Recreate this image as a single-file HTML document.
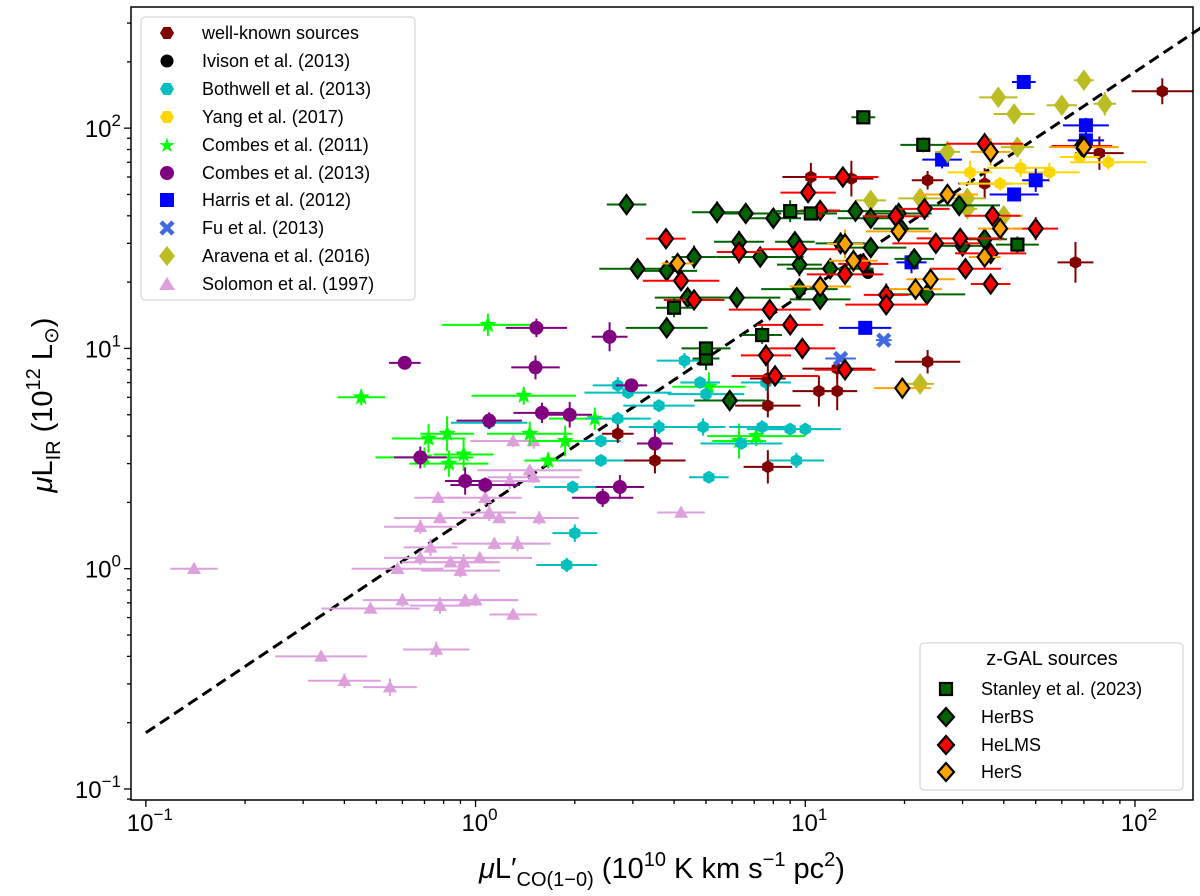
<!DOCTYPE html>
<html><head><meta charset="utf-8"><style>
body{margin:0;background:#fff;position:relative;}
svg{display:block;font-family:"Liberation Sans","DejaVu Sans",sans-serif;}
</style></head><body>
<svg id="chart" width="1200" height="896" viewBox="0 0 1200 896">
<g id="marks"></g>
<g id="axes"></g>
</svg>
<script>
// ---- data (x: muL'CO 1e10 K km/s pc2, y: muLIR 1e12 Lsun) ----
const wellKnownX=[2.7,3.5,7.7,7.7,7.7,11,12.5,12.5,10.4,13.8,23.5,121,78,66,23.5,35];
const wellKnownY=[4.1,3.1,2.9,7.3,5.5,6.4,6.4,8.1,60,59,58,147,77,24.6,8.7,56];
const ivisonX=[15.5];const ivisonY=[22];
const bothwellX=[2.4,1.97,1.89,2.0,2.4,2.7,2.7,2.9,3.6,4.3,4.8,5.0,3.6,4.9,6.4,7.4,7.6,9.0,10,9.4,5.1,1.1];
const bothwellY=[3.8,2.35,1.04,1.45,3.1,4.8,6.8,6.3,5.5,8.8,7.0,6.2,4.4,4.4,3.7,4.4,7.0,4.3,4.3,3.1,2.6,4.6];
const yangX=[68,83,55,31.6,39,45];const yangY=[74,70,63,63,56,66];
const combes11X=[0.45,1.09,0.72,0.82,0.7,0.83,0.92,1.4,1.46,1.87,1.66,2.3,5.1,6.3,7.1];
const combes11Y=[6,12.8,3.9,4.1,3.2,3.0,3.3,6.1,4.1,3.8,3.1,4.8,6.7,3.8,4.0];
const combes13X=[0.61,1.53,1.52,2.55,1.1,0.68,0.93,1.07,1.59,1.93,2.97,2.43,2.74,3.5];
const combes13Y=[8.6,12.4,8.2,11.3,4.7,3.2,2.5,2.4,5.1,5.0,6.8,2.1,2.35,3.7];
const harrisX=[46,71,71,50,43,26,21,15.2];const harrisY=[162,103,88,58,50,72,24.6,12.4];
const fuX=[17.3,12.8];const fuY=[10.9,9.0];
const aravenaX=[70,38.5,60,81,43,44,27,22.3,31,22.3,31,40,15.8];
const aravenaY=[165,138,127,129,116,82,78,48,48,6.9,43,40,47];
const solomonX=[0.14,0.34,0.4,0.55,0.48,0.6,0.78,0.93,1.0,0.76,1.3,0.58,0.68,0.73,0.84,0.9,0.92,1.03,1.14,1.34,0.77,0.78,1.07,1.1,1.18,1.56,1.27,1.46,1.3,1.5,4.2,1.5,0.68];
const solomonY=[1.0,0.4,0.31,0.29,0.66,0.72,0.68,0.72,0.72,0.43,0.62,1.0,1.12,1.25,1.07,0.98,1.07,1.12,1.3,1.3,2.1,1.7,2.1,1.8,1.7,1.7,2.5,2.8,3.8,3.8,1.8,2.6,1.55];
const stanleyX=[15,22.8,4,5,5,7.4,9,10.4,44];const stanleyY=[112,84,15.3,9,10,11.5,42,41,29.6];
const herbsX=[2.87,3.1,3.8,4.6,3.8,4.4,5.4,6.2,6.6,8.0,9.3,9.6,11.1,9.6,14.2,15.8,12.8,11.9,15.8,19.5,21.4,23.4,30,35,29.3,19.2,6.3,7.3,5.9];
const herbsY=[45,23,22.5,26,12.4,17,41.5,17,41,39,30.5,18.6,16.7,24,42,39,30,23,28.7,35,25.5,17.6,29.2,31.3,44.6,41,30.5,26,5.8];
const helmsX=[3.78,4.2,4.6,6.3,9.6,9.8,7.6,8.1,13,10.2,11.1,13.2,13.2,17.6,17.6,18.8,23,29.5,36.5,37,36.5,35,69,50,7.8,9,15,24.9,30.6];
const helmsY=[31.5,20.3,16.6,27.4,28.2,10,9.3,7.5,60,51,42.3,21.7,8,17.5,15.8,39.8,43,31.6,27,40,19.6,85,83,35,15,12.8,24.2,30,23];
const hersX=[4.1,11.1,14,13.2,19.2,21.6,36.5,70,19.7,39,35,27,24];
const hersY=[24.3,19.1,25,29.8,34,18.6,78,82,6.6,35,26,50,20.6];
// ---- axes ----
const X0=131,X1=1193,Y0=7,Y1=800;
const lxmin=-1.045,lxmax=2.176,lymin=-1.05,lymax=2.55;
const sx=v=>X0+(Math.log10(v)-lxmin)/(lxmax-lxmin)*(X1-X0);
const sy=v=>Y1-(Math.log10(v)-lymin)/(lymax-lymin)*(Y1-Y0);
const NS="http://www.w3.org/2000/svg";
const marks=document.getElementById('marks'),axes=document.getElementById('axes');
function mk(tag,attrs,parent){const e=document.createElementNS(NS,tag);for(const k in attrs)e.setAttribute(k,attrs[k]);parent.appendChild(e);return e;}
const lineX=[0.1,160];const lineY=lineX.map(v=>1.8*v);
const dl=mk('line',{x1:sx(lineX[0]),y1:sy(lineY[0]),x2:sx(lineX[1]),y2:sy(lineY[1]),stroke:'#000','stroke-width':3,'stroke-dasharray':'11,6'},marks);


function shape(kind,cx,cy,s,fill,edge,g){
 let e;
 if(kind==='circle'){e=mk('circle',{cx,cy,r:s,fill},g);}
 else if(kind==='square'){e=mk('rect',{x:cx-s,y:cy-s,width:2*s,height:2*s,fill},g);}
 else if(kind==='diamond'){e=mk('polygon',{points:`${cx},${cy-s*1.35} ${cx+s},${cy} ${cx},${cy+s*1.35} ${cx-s},${cy}`,fill},g);}
 else if(kind==='hex'){let p=[];for(let i=0;i<6;i++){const a=Math.PI/3*i+Math.PI/6;p.push((cx+s*Math.cos(a))+','+(cy+s*Math.sin(a)));}e=mk('polygon',{points:p.join(' '),fill},g);}
 else if(kind==='tri'){e=mk('polygon',{points:`${cx},${cy-s} ${cx+s},${cy+s*0.75} ${cx-s},${cy+s*0.75}`,fill},g);}
 else if(kind==='star'){let p=[];for(let i=0;i<10;i++){const r=i%2?s*0.42:s;const a=-Math.PI/2+Math.PI/5*i;p.push((cx+r*Math.cos(a))+','+(cy+r*Math.sin(a)));}e=mk('polygon',{points:p.join(' '),fill},g);}
 else if(kind==='x'){e=mk('path',{d:`M${cx-s},${cy-s}L${cx+s},${cy+s}M${cx+s},${cy-s}L${cx-s},${cy+s}`,stroke:fill,'stroke-width':4.5,fill:'none'},g);}
 if(edge){e.setAttribute('stroke',edge);e.setAttribute('stroke-width',2.2);}
 return e;
}
function series(name,xs,ys,kind,size,color,ecol,edge,xe,ye){
 const g=mk('g',{},marks);
 
 
 xs.forEach((x,i)=>{
  const cx=sx(x),cy=sy(ys[i]);
  const f1=Math.pow(10,xe*(0.6+0.8*((i*37)%10)/10)),f2=Math.pow(10,ye*(0.6+0.8*((i*53)%10)/10));
  mk('line',{x1:sx(x/f1),x2:sx(x*f1),y1:cy,y2:cy,stroke:ecol,'stroke-width':2},g);
  mk('line',{x1:cx,x2:cx,y1:sy(ys[i]/f2),y2:sy(ys[i]*f2),stroke:ecol,'stroke-width':2},g);
 });
 xs.forEach((x,i)=>{
  const m=shape(kind,sx(x),sy(ys[i]),size,color,edge,g);
  
  
 });
}
series('solomon',solomonX,solomonY,'tri',7,'#dda0dd','#dda0dd',null,0.12,0.03);
series('combes-2011',combes11X,combes11Y,'star',9,'#00ff00','#00ff00',null,0.12,0.06);
series('bothwell',bothwellX,bothwellY,'hex',6.5,'#00bfbf','#00bfbf',null,0.1,0.03);
series('combes-2013',combes13X,combes13Y,'circle',7,'#800080','#800080',null,0.08,0.05);
series('well-known',wellKnownX,wellKnownY,'hex',6.5,'#800000','#800000',null,0.08,0.07);
series('ivison',ivisonX,ivisonY,'circle',6,'#000','#000',null,0.03,0.03);
series('yang',yangX,yangY,'hex',6.5,'#ffd700','#ffd700',null,0.1,0.04);
series('harris',harrisX,harrisY,'square',7,'#0000ff','#0000ff',null,0.06,0.04);
series('fu',fuX,fuY,'x',6,'#4169e1','#4169e1',null,0.04,0.02);
series('aravena',aravenaX,aravenaY,'diamond',8,'#bcbd22','#bcbd22',null,0.05,0.04);
series('herbs',herbsX,herbsY,'diamond',7,'#006400','#006400','#000',0.1,0.04);
series('helms',helmsX,helmsY,'diamond',7,'#ff0000','#ff0000','#000',0.1,0.04);
series('hers',hersX,hersY,'diamond',7,'#ffa500','#ffa500','#000',0.08,0.05);
series('stanley',stanleyX,stanleyY,'square',6,'#006400','#006400','#000',0.06,0.04);
const fr=mk('rect',{x:X0,y:Y0,width:X1-X0,height:Y1-Y0,fill:'none',stroke:'#000','stroke-width':1.5},axes);


const xTickLabels=['-1','0','1','2'];
const yTickLabels=['-1','0','1','2'];
for(let d=-2;d<=3;d++){for(let k=1;k<10;k++){const v=k*Math.pow(10,d);
 if(v>=Math.pow(10,lxmin)&&v<=Math.pow(10,lxmax)){const x=sx(v);mk('line',{x1:x,x2:x,y1:Y1,y2:Y1+(k===1?7:4),stroke:'#000','stroke-width':1.3},axes);}
 if(v>=Math.pow(10,lymin)&&v<=Math.pow(10,lymax)){const y=sy(v);mk('line',{x1:X0,x2:X0-(k===1?7:4),y1:y,y2:y,stroke:'#000','stroke-width':1.3},axes);}
}}
xTickLabels.forEach(e=>{const t=mk('text',{x:sx(Math.pow(10,+e))+4,y:Y1+31,'text-anchor':'middle','font-size':24},axes);
 
 
 t.innerHTML='10<tspan dy="-11" font-size="17">'+(e.startsWith('-')?'−'+e.slice(1):e)+'</tspan>';});
yTickLabels.forEach(e=>{const t=mk('text',{x:X0-10,y:sy(Math.pow(10,+e))+9,'text-anchor':'end','font-size':24},axes);
 
 
 t.innerHTML='10<tspan dy="-11" font-size="17">'+(e.startsWith('-')?'−'+e.slice(1):e)+'</tspan>';});
</script>
<svg width="1200" height="896" style="position:absolute;left:0;top:0">
<text x="662" y="878" text-anchor="middle" font-size="29" font-family="Liberation Sans, DejaVu Sans, sans-serif"><tspan font-style="italic">μ</tspan>L′<tspan dy="8" font-size="20">CO(1−0)</tspan><tspan dy="-8"> (10</tspan><tspan dy="-12" font-size="20">10</tspan><tspan dy="12"> K km s</tspan><tspan dy="-12" font-size="20">−1</tspan><tspan dy="12"> pc</tspan><tspan dy="-12" font-size="20">2</tspan><tspan dy="12">)</tspan></text>
<text transform="translate(52,405) rotate(-90)" text-anchor="middle" font-size="29" font-family="Liberation Sans, DejaVu Sans, sans-serif"><tspan font-style="italic">μ</tspan>L<tspan dy="8" font-size="20">IR</tspan><tspan dy="-8"> (10</tspan><tspan dy="-12" font-size="20">12</tspan><tspan dy="12"> L</tspan><tspan dy="6" font-size="20">⊙</tspan><tspan dy="-6">)</tspan></text>
</svg>
<svg width="1200" height="896" style="position:absolute;left:0;top:0;font-family:'Liberation Sans','DejaVu Sans',sans-serif">
<g font-size="18">
<rect x="141" y="17" width="274" height="283" rx="4" fill="#fff" fill-opacity="0.85" stroke="#ccc"/>
<g><polygon points="174,33 170.5,39 163.5,39 160,33 163.5,27 170.5,27" fill="#800000"/><text x="202" y="39">well-known sources</text></g>
<g><circle cx="167" cy="61" r="6.5" fill="#000"/><text x="202" y="67">Ivison et al. (2013)</text></g>
<g><polygon points="174,89 170.5,95 163.5,95 160,89 163.5,83 170.5,83" fill="#00bfbf"/><text x="202" y="95">Bothwell et al. (2013)</text></g>
<g><polygon points="174,117 170.5,123 163.5,123 160,117 163.5,111 170.5,111" fill="#ffd700"/><text x="202" y="123">Yang et al. (2017)</text></g>
<g><text x="167" y="152" text-anchor="middle" fill="#00ff00" font-size="20">★</text><text x="202" y="151">Combes et al. (2011)</text></g>
<g><circle cx="167" cy="173" r="7" fill="#800080"/><text x="202" y="179">Combes et al. (2013)</text></g>
<g><rect x="160" y="193" width="14" height="14" fill="#0000ff"/><text x="202" y="206">Harris et al. (2012)</text></g>
<g><path d="M161,222L173,234M173,222L161,234" stroke="#4169e1" stroke-width="4.5"/><text x="202" y="234">Fu et al. (2013)</text></g>
<g><polygon points="167,246 175,256 167,266 159,256" fill="#bcbd22"/><text x="202" y="262">Aravena et al. (2016)</text></g>
<g><polygon points="167,277 175,290 159,290" fill="#dda0dd"/><text x="202" y="290">Solomon et al. (1997)</text></g>
</g>
<g font-size="18">
<rect x="920" y="643" width="263" height="147" rx="4" fill="#fff" fill-opacity="0.85" stroke="#ccc"/>
<text x="1052" y="665" text-anchor="middle" font-size="20">z-GAL sources</text>
<g><rect x="940" y="683" width="12" height="12" fill="#006400" stroke="#000" stroke-width="2.2"/><text x="981" y="695">Stanley et al. (2023)</text></g>
<g><polygon points="946,708 954,717 946,726 938,717" fill="#006400" stroke="#000" stroke-width="2.2"/><text x="981" y="723">HerBS</text></g>
<g><polygon points="946,736 954,745 946,754 938,745" fill="#ff0000" stroke="#000" stroke-width="2.2"/><text x="981" y="751">HeLMS</text></g>
<g><polygon points="946,763 954,772 946,781 938,772" fill="#ffa500" stroke="#000" stroke-width="2.2"/><text x="981" y="778">HerS</text></g>
</g>
</svg>
</body></html>
